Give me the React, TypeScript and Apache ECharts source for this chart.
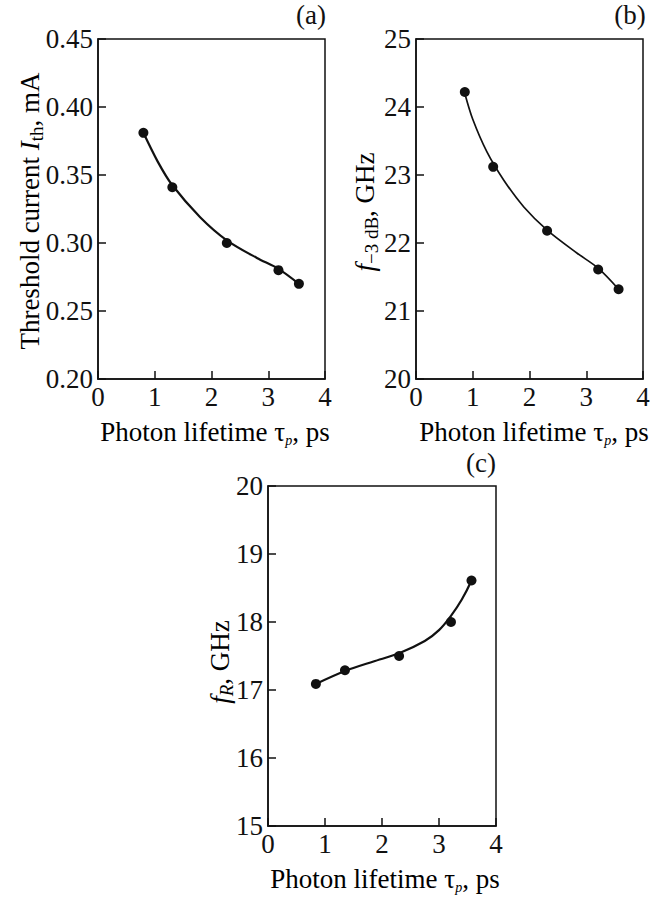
import React, { useEffect, useRef } from "react";
import * as echarts from "echarts";

// Panel (a): threshold current vs photon lifetime
const tauA = [0.8, 1.31, 2.27, 3.18, 3.54];
const ithA = [0.381, 0.341, 0.3, 0.28, 0.27];
const curveAx = [0.8, 1.05, 1.3, 1.8, 2.27, 2.8, 3.18, 3.54];
const curveAy = [0.381, 0.36, 0.343, 0.319, 0.302, 0.289, 0.281, 0.27];

// Panel (b): f-3dB vs photon lifetime
const tauB = [0.86, 1.36, 2.31, 3.21, 3.57];
const f3dbB = [24.22, 23.12, 22.18, 21.61, 21.32];
const curveBx = [0.86, 1.0, 1.25, 1.55, 1.9, 2.31, 2.84, 3.21, 3.57];
const curveBy = [24.2, 23.82, 23.34, 22.92, 22.53, 22.19, 21.85, 21.63, 21.32];

// Panel (c): fR vs photon lifetime
const tauC = [0.84, 1.35, 2.3, 3.21, 3.57];
const frC = [17.09, 17.29, 17.5, 18.0, 18.61];
const curveCx = [0.84, 1.35, 1.85, 2.3, 2.75, 3.0, 3.21, 3.4, 3.57];
const curveCy = [17.09, 17.28, 17.42, 17.54, 17.72, 17.88, 18.09, 18.33, 18.61];

const xTicks = [0, 1, 2, 3, 4];
const panelLabels = ["(a)", "(b)", "(c)"];

const FONT = "Liberation Serif";
const INK = "#111111";
const FS = 27;

const pairs = (xs: number[], ys: number[]) => xs.map((x, i) => [x, ys[i]]);

const richStyles = {
  n: { fontFamily: FONT, fontSize: FS, color: INK },
  i: { fontFamily: FONT, fontSize: FS, color: INK, fontStyle: "italic" },
  s: { fontFamily: FONT, fontSize: 19, color: INK, padding: [12, 0, 0, 0], verticalAlign: "bottom" },
  si: { fontFamily: FONT, fontSize: 19, color: INK, fontStyle: "italic", padding: [12, 0, 0, 0], verticalAlign: "bottom" },
  p: { fontFamily: FONT, fontSize: 14, color: INK, fontStyle: "italic", padding: [16, 0, 0, 0], verticalAlign: "bottom" },
};

function App() {
  const ref = useRef<HTMLDivElement>(null);
  useEffect(() => {
    if (!ref.current) return;
    const chart = echarts.init(ref.current, null, { renderer: "svg" });

    const grids = [
      { left: 98, top: 39, width: 227, height: 340 },
      { left: 416, top: 39, width: 227, height: 340 },
      { left: 268, top: 486, width: 228, height: 340 },
    ];
    const yCfg = [
      { min: 0.2, max: 0.45, interval: 0.05, fmt: (v: number) => v.toFixed(2) },
      { min: 20, max: 25, interval: 1, fmt: (v: number) => String(Math.round(v)) },
      { min: 15, max: 20, interval: 1, fmt: (v: number) => String(Math.round(v)) },
    ];

    const axisLineStyle = { color: INK, width: 1.5 };

    const option: any = {
      animation: false,
      backgroundColor: "#ffffff",
      textStyle: { fontFamily: FONT },
      grid: grids.map((g) => ({
        ...g,
        show: true,
        borderColor: INK,
        borderWidth: 1.5,
        backgroundColor: "transparent",
        containLabel: false,
      })),
      xAxis: grids.map((_, gi) => ({
        gridIndex: gi,
        type: "value",
        min: xTicks[0],
        max: xTicks[xTicks.length - 1],
        interval: 1,
        axisLine: { show: true, lineStyle: axisLineStyle },
        axisTick: { show: true, inside: true, length: 8, lineStyle: axisLineStyle },
        axisLabel: { fontFamily: FONT, fontSize: FS, color: INK, margin: 4 },
        splitLine: { show: false },
      })),
      yAxis: yCfg.map((c, gi) => ({
        gridIndex: gi,
        type: "value",
        min: c.min,
        max: c.max,
        interval: c.interval,
        axisLine: { show: true, lineStyle: axisLineStyle },
        axisTick: { show: true, inside: true, length: 8, lineStyle: axisLineStyle },
        axisLabel: { fontFamily: FONT, fontSize: FS, color: INK, margin: 5, formatter: c.fmt },
        splitLine: { show: false },
      })),
      series: [
        { x: curveAx, y: curveAy, w: 2.2 },
        { x: curveBx, y: curveBy, w: 1.7 },
        { x: curveCx, y: curveCy, w: 2.2 },
      ]
        .map((c, gi) => ({
          type: "line",
          xAxisIndex: gi,
          yAxisIndex: gi,
          data: pairs(c.x, c.y),
          smooth: 0.3,
          showSymbol: false,
          lineStyle: { color: INK, width: c.w },
          silent: true,
          z: 2,
        }))
        .concat(
          [
            pairs(tauA, ithA),
            pairs(tauB, f3dbB),
            pairs(tauC, frC),
          ].map((d, gi) => ({
            type: "scatter",
            xAxisIndex: gi,
            yAxisIndex: gi,
            data: d,
            symbol: "circle",
            symbolSize: 10,
            itemStyle: { color: INK, opacity: 1 },
            z: 3,
          })) as any
        ),
      graphic: [
        // y axis titles
        {
          type: "text",
          x: 30,
          y: 211,
          rotation: Math.PI / 2,
          style: {
            text: "{n|Threshold current }{i|I}{s|th}{n|, mA}",
            rich: richStyles,
            align: "center",
            verticalAlign: "middle",
          },
        },
        {
          type: "text",
          x: 365,
          y: 212,
          rotation: Math.PI / 2,
          style: {
            text: "{i|f}{s|−3 dB}{n|, GHz}",
            rich: richStyles,
            align: "center",
            verticalAlign: "middle",
          },
        },
        {
          type: "text",
          x: 220,
          y: 662,
          rotation: Math.PI / 2,
          style: {
            text: "{i|f}{si|R}{n|, GHz}",
            rich: richStyles,
            align: "center",
            verticalAlign: "middle",
          },
        },
        // x axis titles
        ...[
          { x: 215, y: 432 },
          { x: 534, y: 432 },
          { x: 385, y: 879 },
        ].map((p) => ({
          type: "text",
          x: p.x,
          y: p.y,
          style: {
            text: "{n|Photon lifetime τ}{p|p}{n|, ps}",
            rich: richStyles,
            align: "center",
            verticalAlign: "middle",
          },
        })),
        // panel labels
        ...[
          { x: 311, y: 15 },
          { x: 630, y: 15 },
          { x: 481, y: 463 },
        ].map((p, i) => ({
          type: "text",
          x: p.x,
          y: p.y,
          style: {
            text: panelLabels[i],
            fontFamily: FONT,
            fontSize: FS,
            fill: INK,
            align: "center",
            verticalAlign: "middle",
          },
        })),
      ],
    };

    chart.setOption(option);
    return () => chart.dispose();
  }, []);

  return (
    <div
      ref={ref}
      style={{ position: "absolute", left: 0, top: 0, width: 661, height: 898, background: "#fff" }}
    />
  );
}

export default App;
